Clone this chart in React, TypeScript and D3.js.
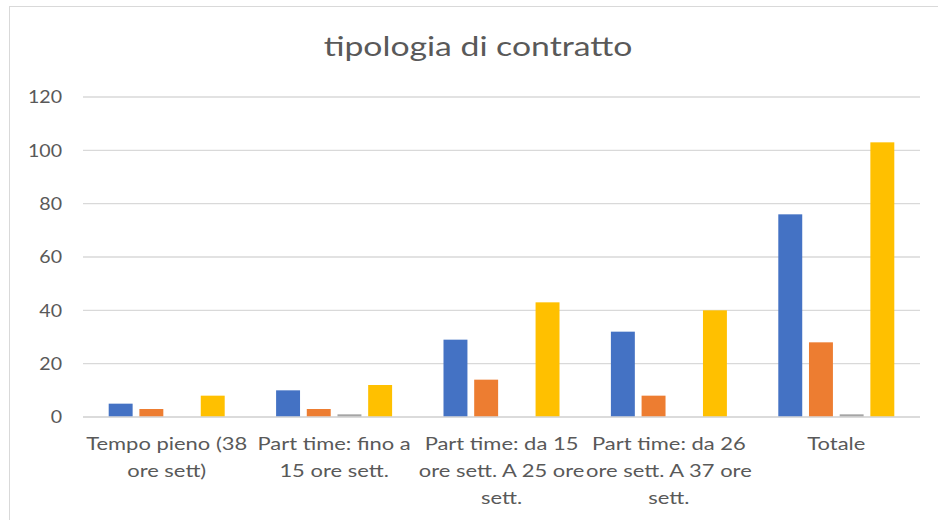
import React from "react";
import * as d3 from "d3";

const WIDTH = 938;
const HEIGHT = 520;
const Margin = { top: 97, right: 18, bottom: 103, left: 83 };

const TITLE = "tipologia di contratto";
const categories = [
  "Tempo pieno (38\nore sett)",
  "Part time: fino a\n15 ore sett.",
  "Part time: da 15\nore sett. A 25 ore\nsett.",
  "Part time: da 26\nore sett. A 37 ore\nsett.",
  "Totale",
];
const seriesNames = ["Serie1", "Serie2", "Serie3", "Serie4"];
const serie1 = [5, 10, 29, 32, 76];
const serie2 = [3, 3, 14, 8, 28];
const serie3 = [0, 1, 0, 0, 1];
const serie4 = [8, 12, 43, 40, 103];
const seriesValues = [serie1, serie2, serie3, serie4];
const colors = ["#4472C4", "#ED7D31", "#A5A5A5", "#FFC000"];
const yTicks = [0, 20, 40, 60, 80, 100, 120];

const FONT = "Lato, 'Open Sans', sans-serif";
const TEXT = "#595959";
const GRID = "#d9d9d9";

// the reference text looks stretched sideways, so squash it back with a scaleX
const App = () => {
  const innerW = WIDTH - Margin.left - Margin.right;
  const innerH = HEIGHT - Margin.top - Margin.bottom;

  const yScale = d3.scaleLinear().domain([0, 120]).range([innerH, 0]);
  const x0 = d3
    .scaleBand<number>()
    .domain(categories.map((_, i) => i))
    .range([0, innerW])
    .paddingInner(0.307)
    .paddingOuter(0.1535);
  const x1 = d3
    .scaleBand<number>()
    .domain(seriesNames.map((_, i) => i))
    .range([0, x0.bandwidth()])
    .paddingInner(0.22);

  return (
    <svg
      width={WIDTH}
      height={HEIGHT}
      style={{ position: "absolute", left: 0, top: 0, background: "#fff" }}
    >
      <rect x={9.5} y={6.5} width={1000} height={600} fill="#fff" stroke={GRID} />
      <text
        transform="translate(478, 56) scale(1.25, 1)"
        textAnchor="middle"
        style={{ fontFamily: FONT, fontSize: 27, fill: TEXT }}
      >
        {TITLE}
      </text>
      <g transform={`translate(${Margin.left}, ${Margin.top})`}>
        {yTicks.map((t) => (
          <g key={t} transform={`translate(0, ${yScale(t)})`}>
            <line x1={0} x2={innerW} y1={0} y2={0} stroke={GRID} strokeWidth={1.3} />
            <text
              transform="translate(-21, 0) scale(1.12, 1)"
              dy="0.36em"
              textAnchor="end"
              style={{ fontFamily: FONT, fontSize: 17.5, fill: TEXT }}
            >
              {t}
            </text>
          </g>
        ))}
        {categories.map((_, ci) => (
          <g key={ci} transform={`translate(${x0(ci)}, 0)`}>
            {seriesValues.map((vals, si) => (
              <rect
                key={si}
                x={x1(si)}
                y={yScale(vals[ci])}
                width={x1.bandwidth()}
                height={innerH - yScale(vals[ci])}
                fill={colors[si]}
              />
            ))}
          </g>
        ))}
        {categories.map((c, ci) => (
          <text
            key={ci}
            transform={`translate(${(x0(ci) as number) + x0.bandwidth() / 2}, ${innerH + 33}) scale(1.22, 1)`}
            textAnchor="middle"
            style={{ fontFamily: FONT, fontSize: 18, fill: TEXT }}
          >
            {c.split("\n").map((line, li) => (
              <tspan key={li} x={0} dy={li === 0 ? 0 : 27}>
                {line}
              </tspan>
            ))}
          </text>
        ))}
        <line x1={0} x2={innerW} y1={innerH} y2={innerH} stroke={GRID} strokeWidth={1.3} />
      </g>
    </svg>
  );
};

export default App;
